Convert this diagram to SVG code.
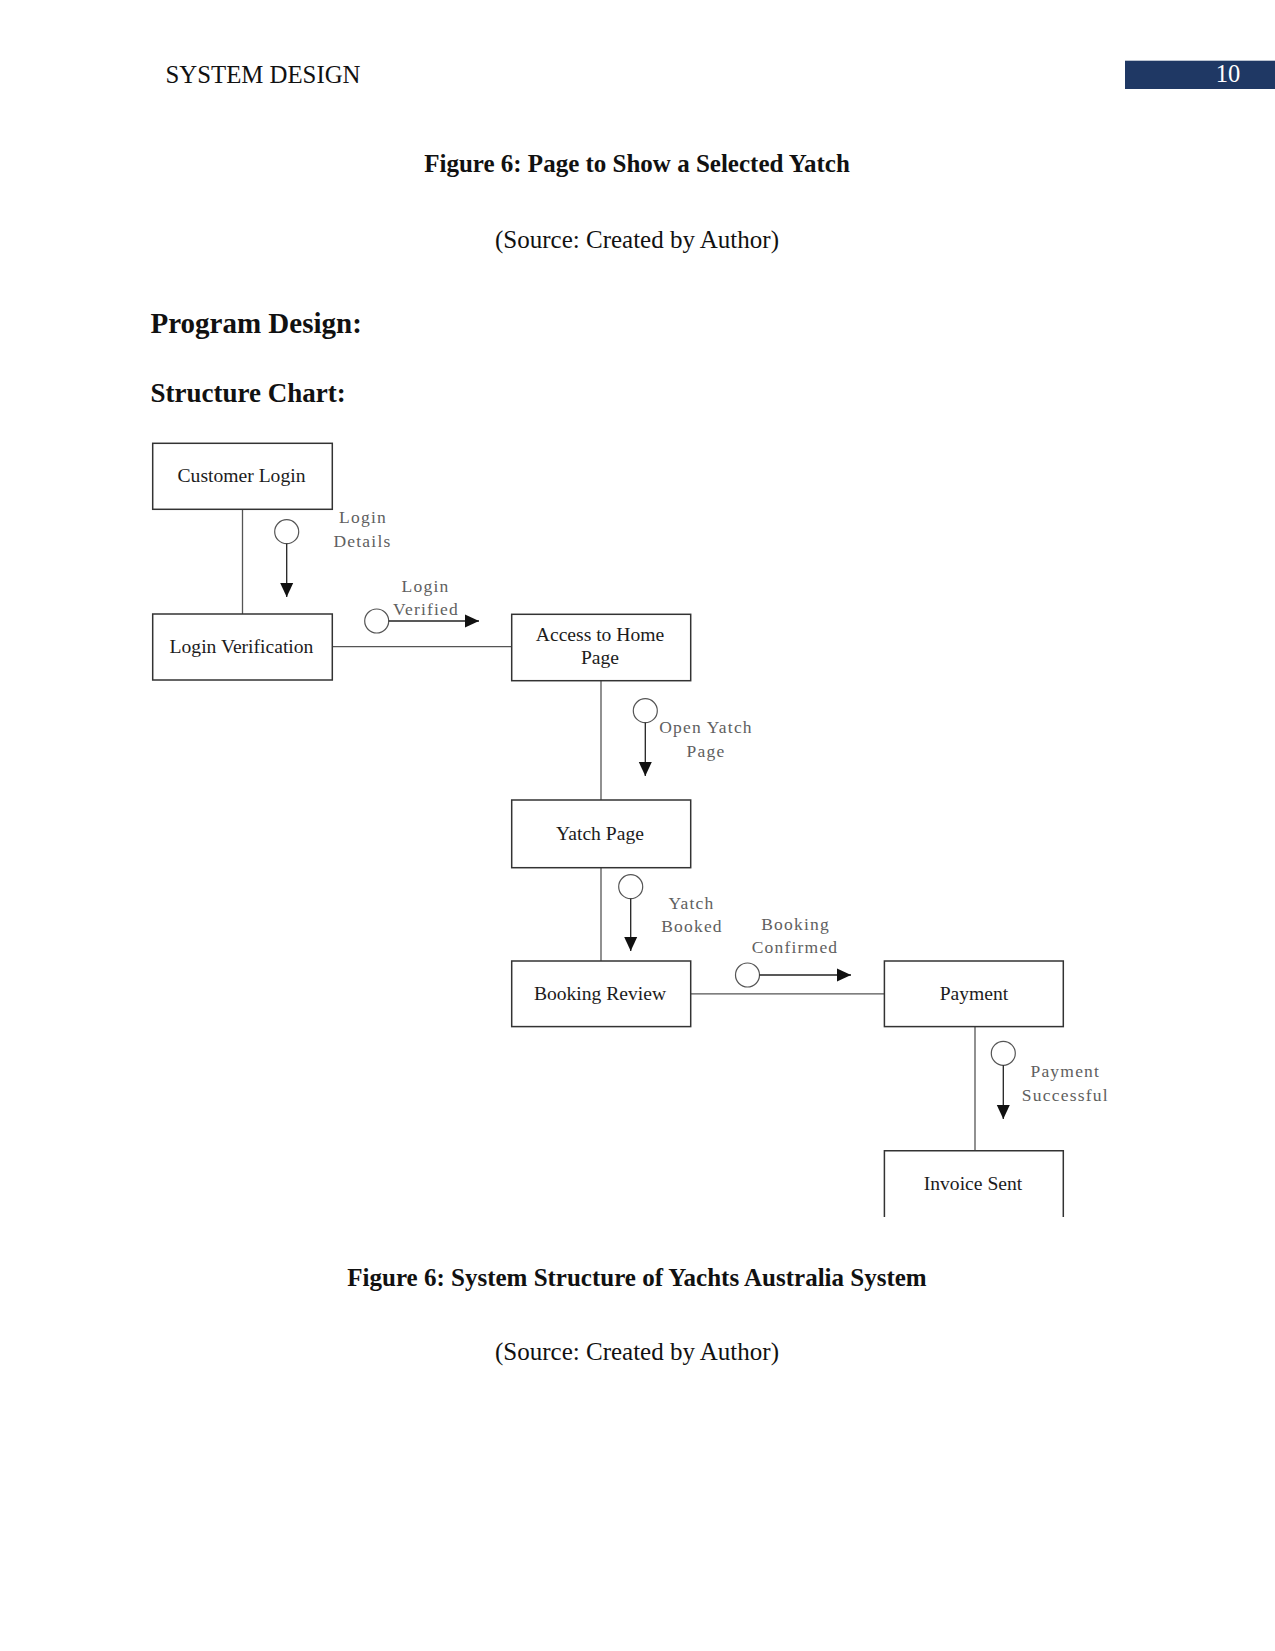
<svg xmlns="http://www.w3.org/2000/svg" width="1275" height="1651" viewBox="0 0 1275 1651">
<style>
.hdr{font-family:"Liberation Serif","Times New Roman",serif;fill:#111}
.title{font-family:"Liberation Serif","Times New Roman",serif;font-size:25px;font-weight:bold;fill:#111}
.src{font-family:"Liberation Serif","Times New Roman",serif;font-size:25px;fill:#111}
.box{fill:#fff;stroke:#333;stroke-width:1.5}
.ntext{font-family:"Liberation Serif","Times New Roman",serif;font-size:19.6px;fill:#1c1c1c;text-anchor:middle}
.lbl{font-family:"Liberation Serif","Times New Roman",serif;font-size:17.5px;letter-spacing:1.2px;fill:#606060;text-anchor:middle}
.conn{stroke:#555;stroke-width:1.3;fill:none}
.couple{stroke:#222;stroke-width:1.3;fill:none}
.dot{fill:#fff;stroke:#555;stroke-width:1.2}
</style>
<defs>
<marker id="ah" markerUnits="userSpaceOnUse" markerWidth="16" markerHeight="14" viewBox="0 0 16 14" refX="14" refY="7" orient="auto">
<path d="M0,0.5 L14,7 L0,13.5 Z" fill="#111"/>
</marker>
</defs>
<rect width="1275" height="1651" fill="#fff"/>
<text class="hdr" x="165.5" y="83.3" font-size="24.8">SYSTEM DESIGN</text>
<rect x="1125" y="60.7" width="150" height="28.3" fill="#1f3864"/>
<text class="hdr" x="1228" y="82.3" font-size="24.5" text-anchor="middle" style="fill:#fff">10</text>
<text class="title" x="637" y="172.3" text-anchor="middle">Figure 6: Page to Show a Selected Yatch</text>
<text class="src" x="637" y="248.3" text-anchor="middle">(Source: Created by Author)</text>
<text class="title" x="150.5" y="332.7" style="font-size:29px">Program Design:</text>
<text class="title" x="150.5" y="401.7" style="font-size:27px">Structure Chart:</text>

<g id="connectors">
<line class="conn" x1="242.5" y1="509.3" x2="242.5" y2="614"/>
<line class="conn" x1="332.3" y1="646.7" x2="511.7" y2="646.7"/>
<line class="conn" x1="601" y1="680.7" x2="601" y2="800"/>
<line class="conn" x1="601" y1="867.7" x2="601" y2="961"/>
<line class="conn" x1="690.7" y1="993.8" x2="884.4" y2="993.8"/>
<line class="conn" x1="975" y1="1026.6" x2="975" y2="1150.7"/>
<g id="couple-login-details">
<circle class="dot" cx="286.7" cy="531.7" r="12"/>
<line class="couple" x1="286.7" y1="543.7" x2="286.7" y2="597" marker-end="url(#ah)"/>
<text class="lbl" x="363" y="523">Login</text>
<text class="lbl" x="362.5" y="546.7">Details</text>
</g>
<g id="couple-login-verified">
<circle class="dot" cx="376.7" cy="621" r="12"/>
<line class="couple" x1="388.7" y1="621" x2="479" y2="621" marker-end="url(#ah)"/>
<text class="lbl" x="425.5" y="591.7">Login</text>
<text class="lbl" x="426" y="615">Verified</text>
</g>
<g id="couple-open-yatch">
<circle class="dot" cx="645.3" cy="710.7" r="12"/>
<line class="couple" x1="645.3" y1="722.7" x2="645.3" y2="776" marker-end="url(#ah)"/>
<text class="lbl" x="706" y="733">Open Yatch</text>
<text class="lbl" x="706" y="756.7">Page</text>
</g>
<g id="couple-yatch-booked">
<circle class="dot" cx="630.7" cy="886.7" r="12"/>
<line class="couple" x1="630.7" y1="898.7" x2="630.7" y2="951" marker-end="url(#ah)"/>
<text class="lbl" x="691.5" y="909">Yatch</text>
<text class="lbl" x="692" y="932.3">Booked</text>
</g>
<g id="couple-booking-confirmed">
<circle class="dot" cx="747.5" cy="975" r="12"/>
<line class="couple" x1="759.5" y1="975" x2="851" y2="975" marker-end="url(#ah)"/>
<text class="lbl" x="795.5" y="930">Booking</text>
<text class="lbl" x="795" y="953.3">Confirmed</text>
</g>
<g id="couple-payment-successful">
<circle class="dot" cx="1003.3" cy="1053.3" r="12"/>
<line class="couple" x1="1003.3" y1="1065.3" x2="1003.3" y2="1119" marker-end="url(#ah)"/>
<text class="lbl" x="1065.3" y="1076.7">Payment</text>
<text class="lbl" x="1065.3" y="1101">Successful</text>
</g>
</g>

<g id="node-customer-login">
<rect class="box" x="152.7" y="443.3" width="179.6" height="66"/>
<text class="ntext" x="241.5" y="482">Customer Login</text>
</g>
<g id="node-login-verification">
<rect class="box" x="152.7" y="614" width="179.6" height="66"/>
<text class="ntext" x="241.5" y="653">Login Verification</text>
</g>
<g id="node-access-home">
<rect class="box" x="511.7" y="614.3" width="179" height="66.4"/>
<text class="ntext" x="600" y="640.7">Access to Home</text>
<text class="ntext" x="600" y="664">Page</text>
</g>
<g id="node-yatch-page">
<rect class="box" x="511.7" y="800" width="179" height="67.7"/>
<text class="ntext" x="600" y="839.5">Yatch Page</text>
</g>
<g id="node-booking-review">
<rect class="box" x="511.7" y="961" width="179" height="65.6"/>
<text class="ntext" x="600" y="999.5">Booking Review</text>
</g>
<g id="node-payment">
<rect class="box" x="884.4" y="961" width="178.9" height="65.6"/>
<text class="ntext" x="974" y="999.5">Payment</text>
</g>
<g id="node-invoice-sent">
<path class="box" d="M884.4,1217 V1150.7 H1063.3 V1217" style="fill:none"/>
<text class="ntext" x="973" y="1190">Invoice Sent</text>
</g>

<text class="title" x="637" y="1285.5" text-anchor="middle">Figure 6: System Structure of Yachts Australia System</text>
<text class="src" x="637" y="1360" text-anchor="middle">(Source: Created by Author)</text>
</svg>
